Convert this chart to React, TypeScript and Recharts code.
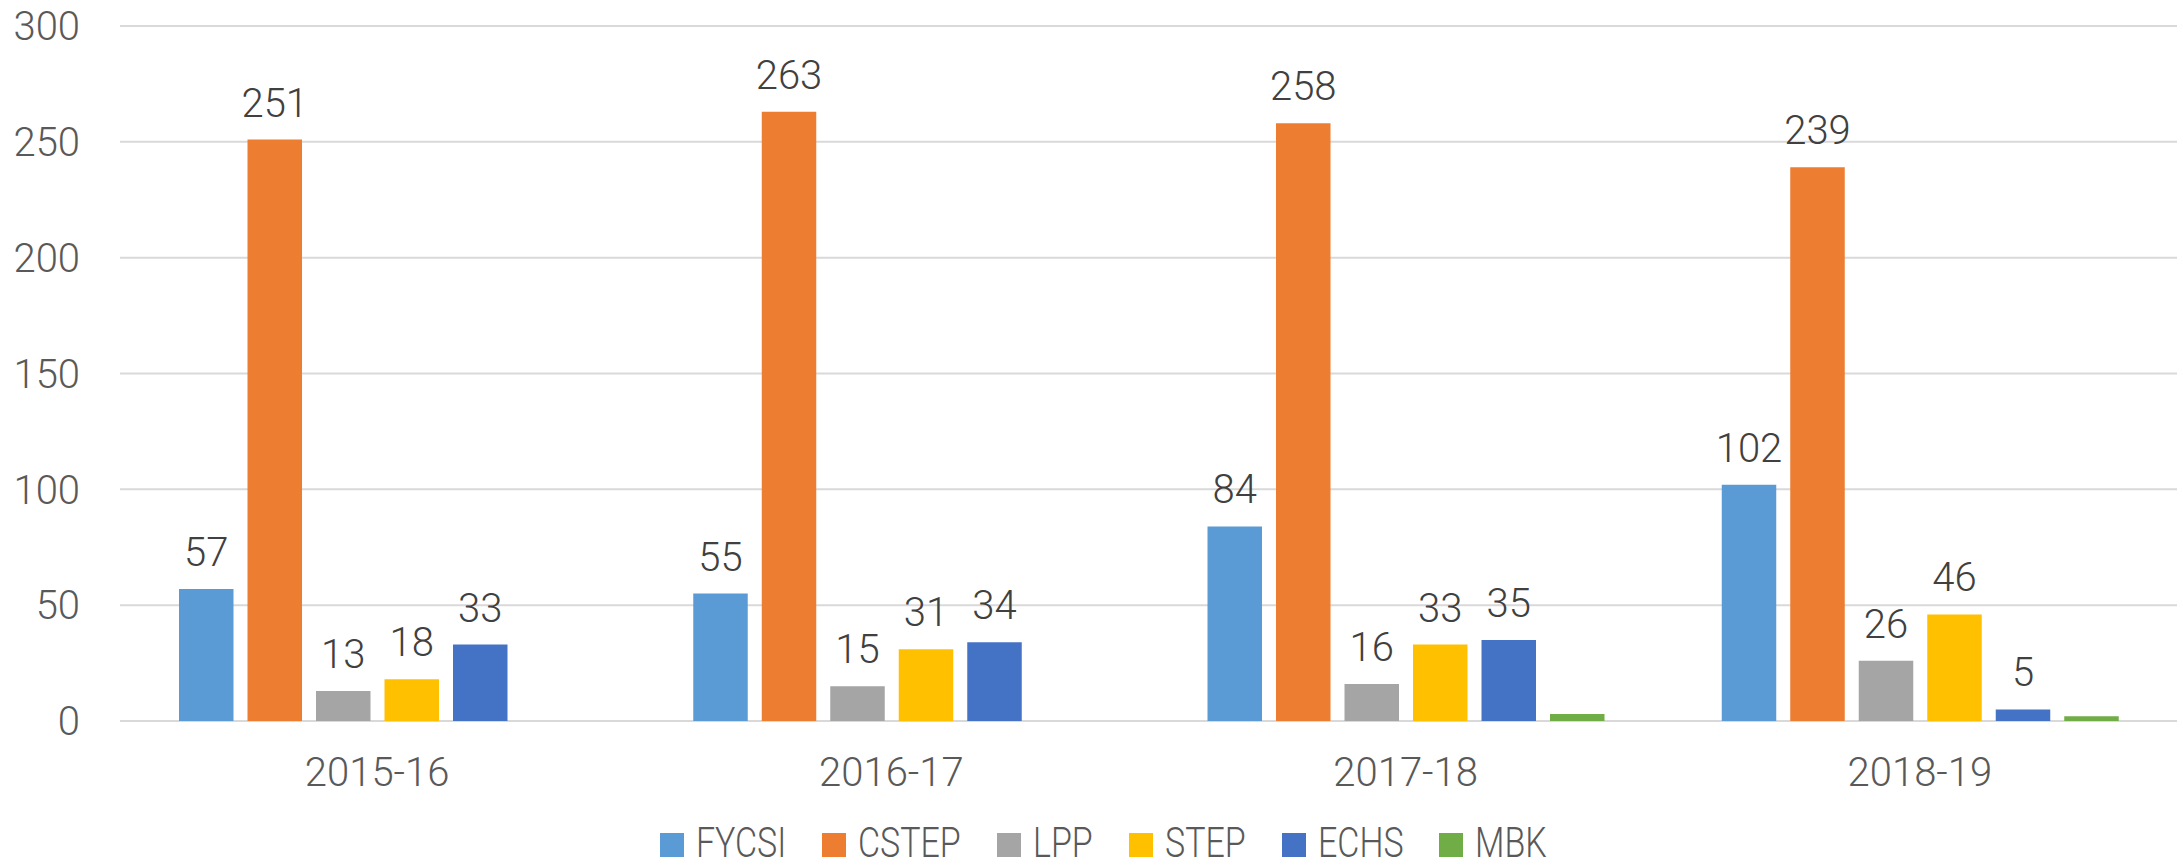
import { useLayoutEffect, useRef, useState } from "react";
import { Bar, BarChart, CartesianGrid, LabelList, Legend, XAxis, YAxis } from "recharts";

const years = ["2015-16", "2016-17", "2017-18", "2018-19"];
const fycsi = [57, 55, 84, 102];
const cstep = [251, 263, 258, 239];
const lpp = [13, 15, 16, 26];
const step = [18, 31, 33, 46];
const echs = [33, 34, 35, 5];
const mbk = [null, null, 3, 2];
const yTicks = [0, 50, 100, 150, 200, 250, 300];

const SERIES = [
  { key: "FYCSI", color: "#5B9BD5", values: fycsi, label: true },
  { key: "CSTEP", color: "#ED7D31", values: cstep, label: true },
  { key: "LPP", color: "#A5A5A5", values: lpp, label: true },
  { key: "STEP", color: "#FFC000", values: step, label: true },
  { key: "ECHS", color: "#4472C4", values: echs, label: true },
  { key: "MBK", color: "#70AD47", values: mbk, label: false },
];

const data = years.map((year, i) => {
  const row: Record<string, string | number | null> = { year };
  SERIES.forEach((s) => (row[s.key] = s.values[i]));
  return row;
});

const FONT = "Roboto, 'Noto Sans', sans-serif";
const WEIGHT = 350;
const TICK = { fontSize: 40, fill: "#595959", fontFamily: FONT, fontWeight: WEIGHT };
const SQUEEZE = 0.79;

// legend text in the source is horizontally squeezed
function Squeezed({ text }: { text: string }) {
  const ref = useRef<HTMLSpanElement>(null);
  const [w, setW] = useState<number | undefined>();
  useLayoutEffect(() => {
    if (ref.current) setW(ref.current.offsetWidth * SQUEEZE);
  }, [text]);
  return (
    <span style={{ display: "inline-block", width: w, whiteSpace: "nowrap" }}>
      <span
        ref={ref}
        style={{ display: "inline-block", transform: `scaleX(${SQUEEZE})`, transformOrigin: "left center" }}
      >
        {text}
      </span>
    </span>
  );
}

function LegendBox() {
  return (
    <div
      style={{
        height: 56,
        paddingLeft: 30,
        display: "flex",
        justifyContent: "center",
        alignItems: "flex-end",
        gap: 36,
        fontFamily: FONT,
        fontWeight: WEIGHT,
        fontSize: 43,
        lineHeight: "normal",
        color: "#595959",
      }}
    >
      {SERIES.map((s) => (
        <div key={s.key} style={{ display: "flex", alignItems: "baseline", gap: 12 }}>
          <span style={{ display: "inline-block", width: 24, height: 24, background: s.color }} />
          <Squeezed text={s.key} />
        </div>
      ))}
    </div>
  );
}

export default function App() {
  return (
    <div style={{ position: "absolute", left: 0, top: 0, background: "#fff" }}>
      <BarChart
        width={2183}
        height={867}
        data={data}
        margin={{ top: 26, right: 6, bottom: 0, left: 0 }}
        barSize={54.5}
        barGap={14}
      >
        <CartesianGrid stroke="#D9D9D9" strokeWidth={2} vertical={false} />
        <XAxis
          dataKey="year"
          tick={TICK}
          axisLine={false}
          tickLine={false}
          tickSize={0}
          tickMargin={37}
          height={90}
        />
        <YAxis
          domain={[0, 300]}
          ticks={yTicks}
          tick={TICK}
          axisLine={false}
          tickLine={false}
          tickSize={0}
          tickMargin={40}
          width={120}
        />
        <Legend verticalAlign="bottom" content={() => <LegendBox />} />
        {SERIES.map((s) => (
          <Bar key={s.key} dataKey={s.key} fill={s.color} isAnimationActive={false}>
            {s.label && (
              <LabelList
                dataKey={s.key}
                position="top"
                offset={23}
                fill="#404040"
                fontSize={40}
                fontWeight={WEIGHT}
                fontFamily={FONT}
              />
            )}
          </Bar>
        ))}
      </BarChart>
    </div>
  );
}
